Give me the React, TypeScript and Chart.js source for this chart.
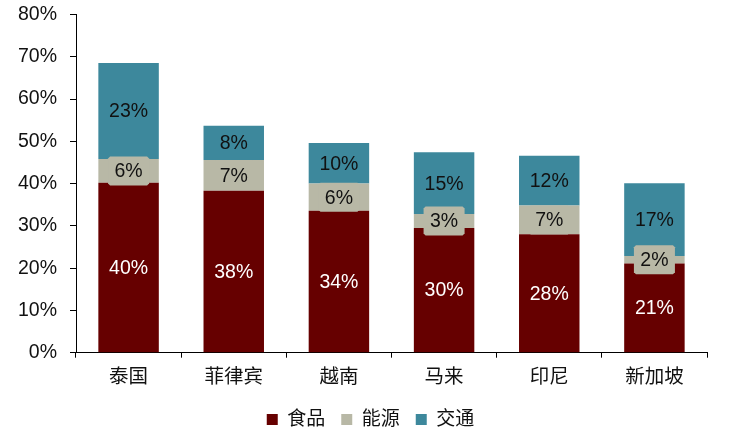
import React, { useEffect, useRef } from "react";
import { Chart, registerables } from "chart.js";

Chart.register(...registerables);

const categories = ["泰国", "菲律宾", "越南", "马来", "印尼", "新加坡"];
const foodValues = [40.2, 38.3, 33.6, 29.5, 28.0, 21.1];
const energyValues = [5.6, 7.3, 6.4, 3.3, 6.8, 1.8];
const transportValues = [22.7, 8.1, 9.6, 14.6, 11.8, 17.2];
const seriesNames = ["食品", "能源", "交通"];
const yTicks = [0, 10, 20, 30, 40, 50, 60, 70, 80];

const FONT = "'Liberation Sans', 'Noto Sans CJK SC', Arial, sans-serif";
const COLORS = ["#660000", "#B8B8A6", "#3D889C"];
const LABEL_COLORS = ["#FFFFFF", "#111111", "#111111"];

const labelPlugin = {
  id: "segLabels",
  afterLayout(chart: any) {
    const lg = chart.legend;
    if (lg) {
      lg.left += 17;
      lg.right += 17;
    }
  },
  afterDatasetsDraw(chart: any) {
    const ctx = chart.ctx;
    ctx.save();
    ctx.font = `19.5px ${FONT}`;
    ctx.textAlign = "center";
    ctx.textBaseline = "middle";
    chart.data.datasets.forEach((ds: any, di: number) => {
      const meta = chart.getDatasetMeta(di);
      meta.data.forEach((el: any, i: number) => {
        const v = ds.data[i];
        const cx = el.x;
        const cy = (el.y + el.base) / 2;
        if (di === 1) {
          const w = 41, h = 29, c = 2;
          const x0 = cx - w / 2, y0 = cy - h / 2;
          ctx.fillStyle = COLORS[1];
          ctx.beginPath();
          ctx.moveTo(x0 + c, y0);
          ctx.lineTo(x0 + w - c, y0);
          ctx.lineTo(x0 + w, y0 + c);
          ctx.lineTo(x0 + w, y0 + h - c);
          ctx.lineTo(x0 + w - c, y0 + h);
          ctx.lineTo(x0 + c, y0 + h);
          ctx.lineTo(x0, y0 + h - c);
          ctx.lineTo(x0, y0 + c);
          ctx.closePath();
          ctx.fill();
        }
        ctx.fillStyle = LABEL_COLORS[di];
        ctx.fillText(Math.round(v) + "%", cx, cy + 1);
      });
    });
    ctx.restore();
  },
};

export default function App() {
  const ref = useRef<HTMLCanvasElement | null>(null);
  useEffect(() => {
    if (!ref.current) return;
    const values = [foodValues, energyValues, transportValues];
    const chart = new Chart(ref.current, {
      type: "bar",
      data: {
        labels: categories,
        datasets: seriesNames.map((name, i) => ({
          label: name,
          data: values[i],
          backgroundColor: COLORS[i],
          borderWidth: 0,
          categoryPercentage: 1,
          barPercentage: 0.575,
        })),
      },
      options: {
        animation: false,
        responsive: true,
        maintainAspectRatio: false,
        layout: { padding: { left: 0, right: 24, top: 14.5, bottom: 1 } },
        plugins: {
          legend: {
            display: true,
            position: "bottom",
            labels: {
              boxWidth: 11,
              boxHeight: 11,
              padding: 16,
              color: "#111111",
              font: { family: FONT, size: 19 },
            },
          },
          tooltip: { enabled: false },
        },
        scales: {
          x: {
            stacked: true,
            grid: {
              display: true,
              drawOnChartArea: false,
              drawTicks: true,
              tickLength: 5,
              color: "#000000",
              offset: true,
            },
            border: { display: true, color: "#000000", width: 1 },
            ticks: {
              color: "#111111",
              padding: 8.5,
              font: { family: FONT, size: 19.5 },
              maxRotation: 0,
            },
            afterFit: (s: any) => {
              s.height = 41.3;
              s.paddingLeft = 0;
              s.paddingRight = 0;
            },
          },
          y: {
            stacked: true,
            min: 0,
            max: 80,
            afterBuildTicks: (s: any) => {
              s.ticks = yTicks.map((v) => ({ value: v }));
            },
            grid: {
              display: true,
              drawOnChartArea: false,
              drawTicks: true,
              tickLength: 6,
              color: "#000000",
            },
            border: { display: true, color: "#000000", width: 1 },
            ticks: {
              color: "#111111",
              padding: 13,
              font: { family: FONT, size: 19.5 },
              callback: (v: any) => v + "%",
            },
            afterFit: (s: any) => {
              s.width = 76;
              s.paddingTop = 0;
              s.paddingBottom = 0;
            },
          },
        },
      },
      plugins: [labelPlugin],
    });
    return () => chart.destroy();
  }, []);
  return (
    <div style={{ position: "fixed", left: 0, top: 0, width: 731, height: 440 }}>
      <canvas ref={ref} />
    </div>
  );
}
